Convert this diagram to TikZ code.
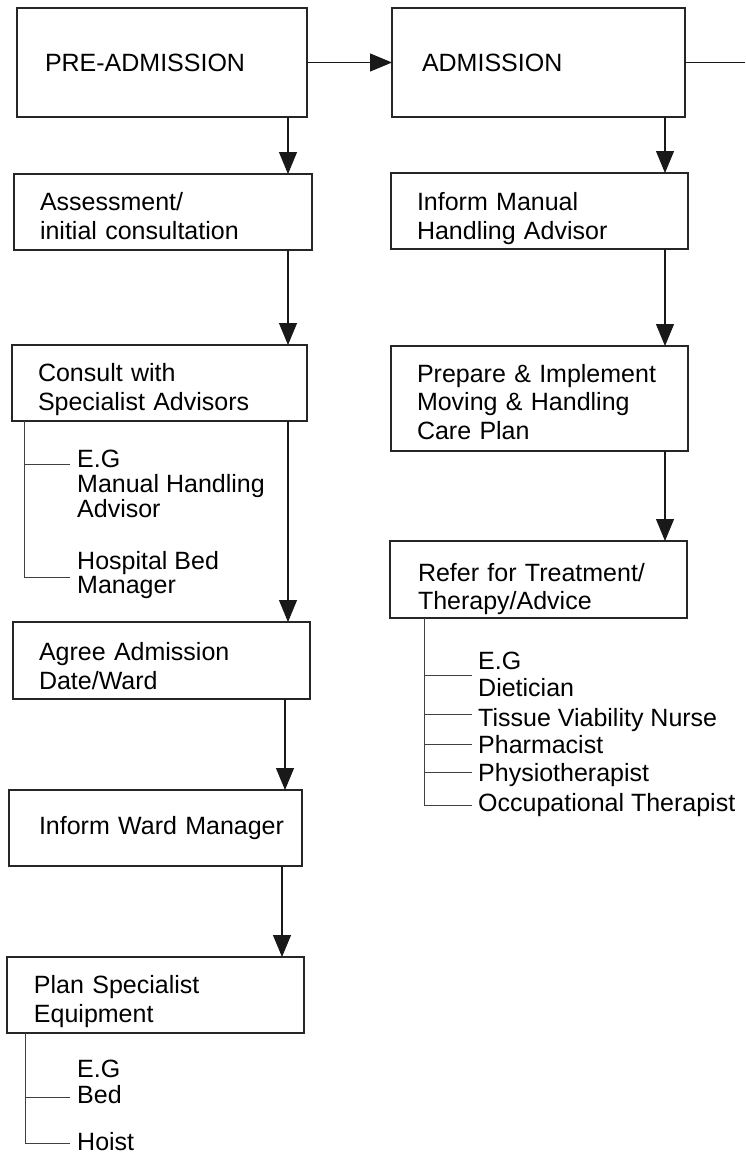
\documentclass[tikz,border=0pt]{standalone}
\usepackage{fontspec}
\setmainfont{Liberation Sans}
\usetikzlibrary{arrows.meta}
\begin{document}
\begin{tikzpicture}[x=1pt,y=-1pt,
  box/.style={draw=black!85, line width=1.1pt, rectangle, anchor=north west,
    inner xsep=26pt, inner ysep=0pt, outer sep=0pt, align=left,
    font=\fontsize{25}{28.5}\selectfont},
  drop/.style={execute at begin node={\rule{0pt}{#1}}},
  item/.style={anchor=base west, inner sep=0pt, font=\fontsize{25}{28}\selectfont},
  link/.style={draw=black!90, line width=1.1pt},
  arr/.style={link, -{Triangle[length=22pt,width=18pt]}},
  brk/.style={draw=black!75, line width=1pt}]
\useasboundingbox (0,0) rectangle (745,1154);

% process boxes
\node[box, inner xsep=28pt, minimum width=290pt, minimum height=109pt, text width=234pt] (pre) at (17,8) {PRE-ADMISSION};
\node[box, inner xsep=30pt, minimum width=293pt, minimum height=109pt, text width=233pt] (adm) at (392,8) {ADMISSION};
\node[box, drop=26pt, minimum width=298pt, minimum height=76pt, text width=246pt] (assess) at (14,174) {Assessment/\\initial consultation};
\node[box, drop=31pt, minimum width=295pt, minimum height=76pt, text width=243pt] (consult) at (12,345) {Consult with\\Specialist Advisors};
\node[box, drop=29pt, minimum width=297pt, minimum height=77pt, text width=245pt] (agree) at (13,622) {Agree Admission\\Date/Ward};
\node[box, inner xsep=30pt, minimum width=293pt, minimum height=76pt, text width=233pt] (ward) at (9,790) {\mbox{Inform Ward Manager}};
\node[box, drop=31pt, inner xsep=27pt, minimum width=297pt, minimum height=76pt, text width=243pt] (plan) at (7,957) {Plan Specialist\\Equipment};
\node[box, drop=33pt, minimum width=297pt, minimum height=76pt, text width=245pt] (inform) at (391,173) {Inform Manual\\Handling Advisor};
\node[box, drop=25pt, minimum width=297pt, minimum height=105pt, text width=245pt] (prepare) at (391,346) {Prepare \& Implement\\Moving \& Handling\\Care Plan};
\node[box, drop=37pt, inner xsep=28pt, minimum width=297pt, minimum height=77pt, text width=241pt] (refer) at (390,541) {Refer for Treatment/\\Therapy/Advice};

% horizontal flow
\coordinate (exit) at (745,62);
\draw[arr] (pre.east) -- (adm.west);
\draw[link] (adm.east) -- (adm.east -| exit);

% vertical flow columns
\coordinate (colA) at (288,0);
\coordinate (colB) at (285,0);
\coordinate (colC) at (282,0);
\coordinate (colD) at (665,0);
\draw[arr] (pre.south -| colA) -- (assess.north -| colA);
\draw[arr] (assess.south -| colA) -- (consult.north -| colA);
\draw[arr] (consult.south -| colA) -- (agree.north -| colA);
\draw[arr] (agree.south -| colB) -- (ward.north -| colB);
\draw[arr] (ward.south -| colC) -- (plan.north -| colC);
\draw[arr] (adm.south -| colD) -- (inform.north -| colD);
\draw[arr] (inform.south -| colD) -- (prepare.north -| colD);
\draw[arr] (prepare.south -| colD) -- (refer.north -| colD);

% specialist advisors list
\node[item] (eg1) at (77,467) {E.G};
\node[item] (mha) at (77,492) {Manual Handling};
\node[item] (adv) at (77,517) {Advisor};
\node[item] (hbm) at (77,569) {Hospital Bed};
\node[item] (mgr) at (77,593) {Manager};
\coordinate (ka1) at (70,464);
\coordinate (ka2) at (70,577);
\coordinate (ba) at ([xshift=12pt]consult.south west);
\draw[brk] (ba) |- (ka2);
\draw[brk] (ba |- ka1) -- (ka1);

% treatment referral list
\node[item] (eg2) at (478,669) {E.G};
\node[item] (diet) at (478,696) {Dietician};
\node[item] (tvn) at (478,726) {Tissue Viability Nurse};
\node[item] (pharm) at (478,753) {Pharmacist};
\node[item] (physio) at (478,781) {Physiotherapist};
\node[item] (occ) at (478,811) {Occupational Therapist};
\coordinate (kb1) at (472,675);
\coordinate (kb2) at (472,714);
\coordinate (kb3) at (472,744);
\coordinate (kb4) at (472,772);
\coordinate (kb5) at (472,805);
\coordinate (bb) at ([xshift=34pt]refer.south west);
\draw[brk] (bb) |- (kb5);
\foreach \k in {kb1,kb2,kb3,kb4} \draw[brk] (bb |- \k) -- (\k);

% equipment list
\node[item] (eg3) at (77,1077) {E.G};
\node[item] (bed) at (77,1103) {Bed};
\node[item] (hoist) at (77,1150) {Hoist};
\coordinate (kc1) at (70,1097);
\coordinate (kc2) at (70,1143);
\coordinate (bc) at ([xshift=18pt]plan.south west);
\draw[brk] (bc) |- (kc2);
\draw[brk] (bc |- kc1) -- (kc1);
\end{tikzpicture}
\end{document}
